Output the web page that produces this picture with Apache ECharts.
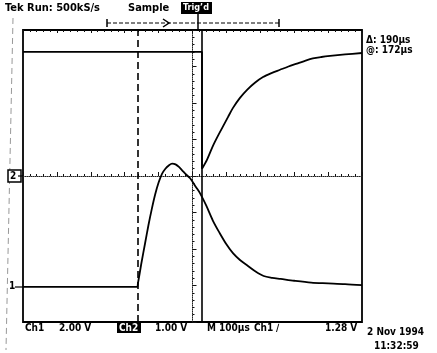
<!DOCTYPE html>
<html><head><meta charset="utf-8">
<script src="https://cdn.jsdelivr.net/npm/echarts@6/dist/echarts.min.js"></script>
<style>html,body{margin:0;padding:0;background:#fff}#c{width:437px;height:353px}</style>
</head><body><div id="c"></div>
<script>
// time in µs relative to screen centre (100 µs/div), voltage in divisions
const ch1Time = [-500,-164,-161,-150,-140,-130,-120,-110,-100,-90,-80,-70,-60,-50,-40,-30,-20,-7,10,22,40,60,80,100,120,140,160,185,210,235,260,300,350,400,450,500];
const ch1Div  = [-3.04,-3.04,-2.94,-2.35,-1.85,-1.35,-0.90,-0.50,-0.18,0.06,0.20,0.29,0.34,0.32,0.25,0.15,0.05,-0.06,-0.30,-0.47,-0.80,-1.22,-1.56,-1.87,-2.12,-2.30,-2.44,-2.61,-2.74,-2.79,-2.82,-2.87,-2.92,-2.94,-2.96,-2.99];
const ch2Time = [-500,28,28,43,60,75,90,105,119,140,161,185,208,233,258,283,308,330,355,380,406,450,500];
const ch2Div  = [3.40,3.40,0.20,0.45,0.82,1.10,1.36,1.62,1.86,2.14,2.36,2.56,2.71,2.82,2.91,3.00,3.08,3.15,3.22,3.26,3.29,3.33,3.37];
const cursorTimes = [-162, 28];
const headerTexts = ['Tek Run: 500kS/s', 'Sample', 'Trig\u2019d'];
const footerTexts = ['Ch1', '2.00 V', 'Ch2', '1.00 V', 'M 100\u00b5s', 'Ch1', '\u2215', '1.28 V'];
const readouts = ['\u0394: 190\u00b5s', '@: 172\u00b5s'];
const dateTexts = ['2 Nov 1994', '11:32:59'];

const FONT = '"DejaVu Sans Condensed","DejaVu Sans",sans-serif';
const chart = echarts.init(document.getElementById('c'));
const pair = (xs, ys) => xs.map((x, i) => [x, ys[i]]);
const ch2Pts = pair(ch2Time, ch2Div);
const stepIdx = 2; // index where the step lands
const txt = (text, x, y, extra) => Object.assign({type:'text', x, y, style:Object.assign({text, fill:'#000', font:'bold 10px ' + FONT}, extra||{})});
const LW = 1.8;

chart.setOption({
  animation:false,
  backgroundColor:'#fff',
  grid:{left:23, top:30, width:339, height:292, show:true, borderColor:'#000', borderWidth:1.8, backgroundColor:'transparent'},
  xAxis:[
    {type:'value', min:-500, max:500, interval:100, position:'bottom',
     axisLine:{onZero:true, lineStyle:{color:'#222', type:'dotted', width:1}},
     axisTick:{show:true, inside:true, length:4, lineStyle:{color:'#111'}},
     minorTick:{show:true, splitNumber:5, length:2, lineStyle:{color:'#111'}},
     axisLabel:{show:false}, splitLine:{show:false}},
    {type:'value', min:-500, max:500, interval:100, position:'top',
     axisLine:{onZero:false, show:false},
     axisTick:{show:true, inside:true, length:3, lineStyle:{color:'#111'}},
     minorTick:{show:true, splitNumber:5, length:2, lineStyle:{color:'#111'}},
     axisLabel:{show:false}, splitLine:{show:false}}
  ],
  yAxis:[
    {type:'value', min:-4, max:4, interval:1,
     axisLine:{show:true, onZero:true, lineStyle:{color:'#222', type:'dotted', width:1}},
     axisTick:{show:true, inside:true, length:4, lineStyle:{color:'#111'}},
     minorTick:{show:true, splitNumber:5, length:2, lineStyle:{color:'#111'}},
     axisLabel:{show:false}, splitLine:{show:false}}
  ],
  series:[
    {type:'line', data:pair(ch1Time, ch1Div), showSymbol:false, smooth:0.3,
     lineStyle:{color:'#000', width:LW}, z:5,
     markLine:{silent:true, symbol:'none', label:{show:false},
       data:[
         {xAxis:cursorTimes[0], lineStyle:{color:'#000', type:[7,4], width:1.6}},
         {xAxis:cursorTimes[1], lineStyle:{color:'#000', type:'solid', width:1.6}}
       ]}},
    {type:'line', data:ch2Pts.slice(0, stepIdx + 1), showSymbol:false, smooth:false,
     lineStyle:{color:'#000', width:LW}, z:5},
    {type:'line', data:ch2Pts.slice(stepIdx), showSymbol:false, smooth:0.3,
     lineStyle:{color:'#000', width:LW}, z:5}
  ],
  graphic:[
    {type:'line', shape:{x1:13, y1:18, x2:6, y2:350}, style:{stroke:'#999', lineWidth:1, lineDash:[6,4]}},
    txt(headerTexts[0], 5, 3, {font:'bold 11px ' + FONT}),
    txt(headerTexts[1], 128, 3, {font:'bold 11px ' + FONT}),
    {type:'rect', shape:{x:181, y:2, width:31, height:12}, style:{fill:'#000'}},
    txt(headerTexts[2], 183, 3, {fill:'#fff', font:'bold 9px ' + FONT}),
    {type:'line', shape:{x1:107, y1:23, x2:279, y2:23}, style:{stroke:'#000', lineWidth:1, lineDash:[4,2]}},
    {type:'line', shape:{x1:107, y1:19, x2:107, y2:27}, style:{stroke:'#000', lineWidth:1.5}},
    {type:'line', shape:{x1:279, y1:19, x2:279, y2:27}, style:{stroke:'#000', lineWidth:1.5}},
    {type:'polyline', shape:{points:[[163,19],[169,23],[163,27]]}, style:{stroke:'#000', lineWidth:1.5, fill:null}},
    {type:'line', shape:{x1:198, y1:14, x2:198, y2:30}, style:{stroke:'#000', lineWidth:1.5}},
    txt(readouts[0], 366, 35),
    txt(readouts[1], 366, 45),
    txt('1', 9, 281),
    {type:'line', shape:{x1:15, y1:287, x2:23, y2:287}, style:{stroke:'#000', lineWidth:1.2}},
    {type:'rect', shape:{x:8, y:170, width:13, height:12}, style:{stroke:'#000', lineWidth:1.5, fill:'#fff'}},
    txt('2', 10, 171),
    {type:'line', shape:{x1:18, y1:176, x2:24, y2:176}, style:{stroke:'#000', lineWidth:1.2}},
    txt(footerTexts[0], 25, 323),
    txt(footerTexts[1], 59, 323),
    {type:'rect', shape:{x:117, y:322, width:24, height:11}, style:{fill:'#000'}},
    txt(footerTexts[2], 119, 323, {fill:'#fff'}),
    txt(footerTexts[3], 155, 323),
    txt(footerTexts[4], 207, 323),
    txt(footerTexts[5], 254, 323),
    txt(footerTexts[6], 276, 323),
    txt(footerTexts[7], 325, 323),
    txt(dateTexts[0], 367, 327),
    txt(dateTexts[1], 374, 341)
  ]
});
</script></body></html>
